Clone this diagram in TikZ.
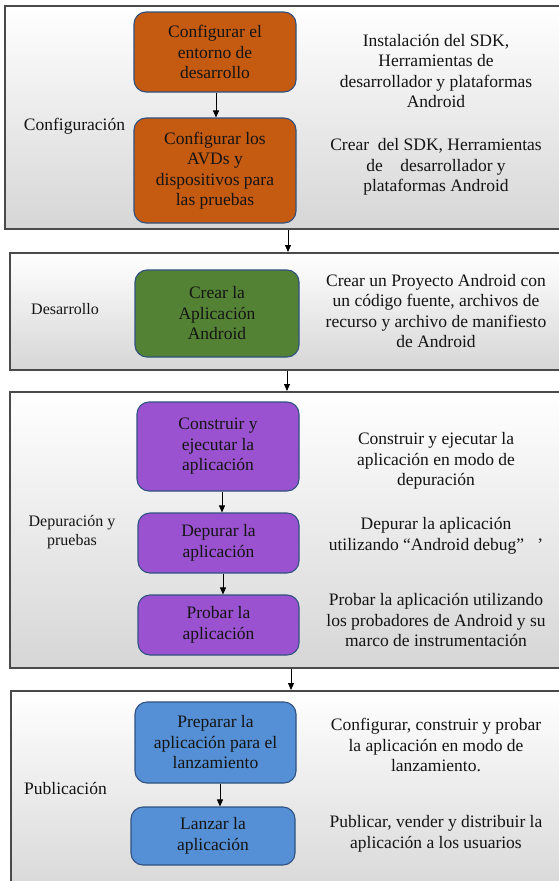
\documentclass[tikz,border=0pt]{standalone}
\usepackage{fontspec}
\setmainfont{Liberation Serif}
\usetikzlibrary{arrows.meta,calc}
\definecolor{orangebox}{HTML}{C55A11}
\definecolor{greenbox}{HTML}{548235}
\definecolor{purplebox}{HTML}{9B52D0}
\definecolor{bluebox}{HTML}{5590D6}
\definecolor{boxline}{HTML}{2F5280}
\definecolor{panelline}{HTML}{4A4A4A}
\definecolor{panelbottom}{HTML}{D6D6D6}
\definecolor{textcol}{HTML}{141414}
\tikzset{
  panel/.style={draw=panelline, line width=1.6pt, top color=white, bottom color=panelbottom, anchor=north west, inner sep=0pt, rectangle},
  stepbox/.style={draw=boxline, line width=1.1pt, rounded corners=12pt, align=center, text=textcol, inner sep=2pt,
    font=\fontsize{17.5}{20.5}\selectfont},
  desc/.style={align=center, text=textcol, font=\fontsize{17.5}{20.5}\selectfont, inner sep=0pt},
  phase/.style={align=center, text=textcol, font=\fontsize{17.5}{20.5}\selectfont, inner sep=0pt},
  phasesmall/.style={align=center, text=textcol, font=\fontsize{16}{19}\selectfont, inner sep=0pt},
  arr/.style={draw=black, line width=0.8pt, -{Triangle[width=6pt,length=7pt]}},
}
\begin{document}
\begin{tikzpicture}[x=1pt,y=-1pt]
\useasboundingbox (0,0) rectangle (559,881);
\clip (0,0) rectangle (559,881);
\fill[white] (0,0) rectangle (559,881);

% panels
\node[panel, minimum width=570pt, minimum height=223pt] (p1) at (4,5) {};
\node[panel, minimum width=570pt, minimum height=117pt] (p2) at (9,252) {};
\node[panel, minimum width=570pt, minimum height=276pt] (p3) at (9,391) {};
\node[panel, minimum width=570pt, minimum height=210pt] (p4) at (10,690) {};

\coordinate (xa) at (288,0);
\coordinate (xb) at (287,0);
\coordinate (xc) at (291,0);
\coordinate (xa1) at (216,0);
\coordinate (xc1) at (222,0);
\coordinate (xc2) at (223,0);
\coordinate (xd1) at (220,0);

% phase labels
\node[phase] (l1) at (74.5,126) {Configuración};
\node[phasesmall] (l2) at (65,309) {Desarrollo};
\node[phasesmall] (l3) at (72,532) {Depuración y\\pruebas};
\node[phase] (l4) at (65.5,788) {Publicación};

% boxes
\node[stepbox, fill=orangebox, minimum width=162pt, minimum height=80pt] (a1) at (215,52) {Configurar el\\entorno de\\desarrollo};
\node[stepbox, fill=orangebox, minimum width=162pt, minimum height=105pt] (a2) at (215,170.5) {Configurar los\\AVDs y\\dispositivos para\\las pruebas};
\node[stepbox, fill=greenbox, minimum width=164pt, minimum height=87pt] (b1) at (217,313.5) {Crear la\\Aplicación\\Android};
\node[stepbox, fill=purplebox, minimum width=162pt, minimum height=89pt] (c1) at (218,446.5) {Construir y\\ejecutar la\\aplicación};
\node[stepbox, fill=purplebox, minimum width=161pt, minimum height=60pt] (c2) at (218.5,543) {Depurar la\\aplicación};
\node[stepbox, fill=purplebox, minimum width=161pt, minimum height=60pt] (c3) at (218.5,625) {Probar la\\aplicación};
\node[stepbox, fill=bluebox, minimum width=161pt, minimum height=81pt] (d1) at (215.5,742.5) {Preparar la\\aplicación para el\\lanzamiento};
\node[stepbox, fill=bluebox, minimum width=164pt, minimum height=58pt] (d2) at (213,836) {Lanzar la\\aplicación};

% descriptions
\node[desc] (r1) at (436,71) {Instalación del SDK,\\Herramientas de\\desarrollador y plataformas\\Android};
\node[desc] (r2) at (436,167) {Crear\ \ del SDK, Herramientas\\de\ \ \ \ desarrollador y\\plataformas Android};
\node[desc] (r3) at (436,311) {Crear un Proyecto Android con\\un código fuente, archivos de\\recurso y archivo de manifiesto\\de Android};
\node[desc] (r4) at (436,461) {Construir y ejecutar la\\aplicación en modo de\\depuración};
\node[desc] (r5) at (436,536) {Depurar la aplicación\\utilizando “Android debug”\ \ \ '};
\node[desc] (r6) at (436,620) {Probar la aplicación utilizando\\los probadores de Android y su\\marco de instrumentación};
\node[desc] (r7) at (436,745) {Configurar, construir y probar\\la aplicación en modo de\\lanzamiento.};
\node[desc] (r8) at (436,834) {Publicar, vender y distribuir la\\aplicación a los usuarios};

% arrows inside panels
\draw[arr] (a1.south -| xa1) -- (a2.north -| xa1);
\draw[arr] (c1.south -| xc1) -- (c2.north -| xc1);
\draw[arr] (c2.south -| xc2) -- (c3.north -| xc2);
\draw[arr] (d1.south -| xd1) -- (d2.north -| xd1);

% arrows between panels
\draw[arr] (p1.south west -| xa) -- (p2.north west -| xa);
\draw[arr] (p2.south west -| xb) -- (p3.north west -| xb);
\draw[arr] (p3.south west -| xc) -- (p4.north west -| xc);
\end{tikzpicture}
\end{document}
